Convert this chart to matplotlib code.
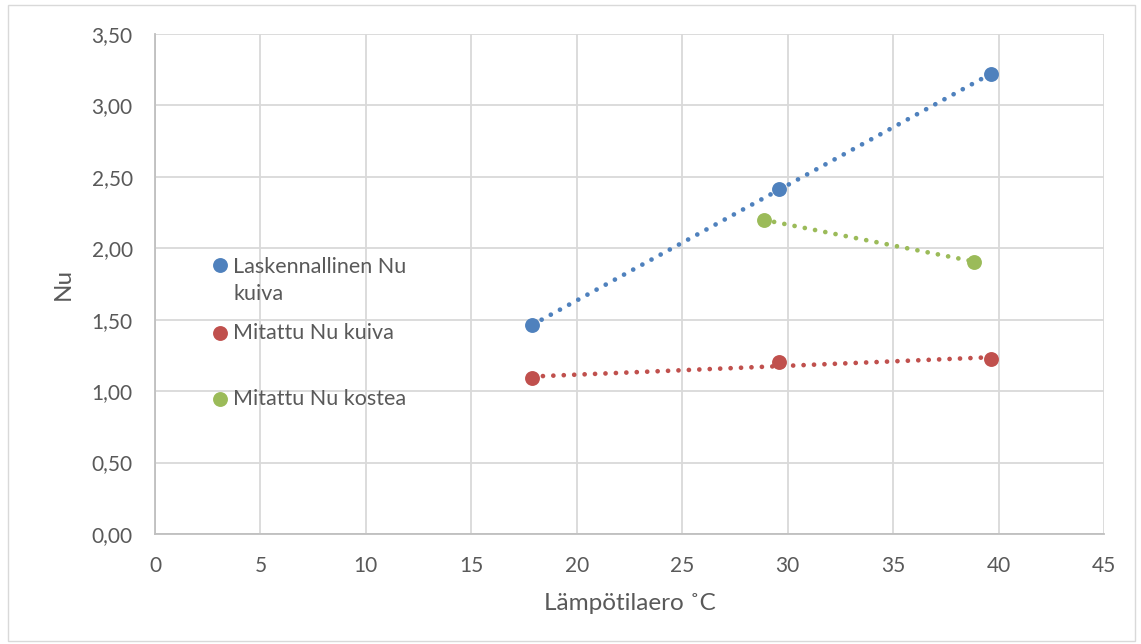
import numpy as np
import matplotlib
matplotlib.use("Agg")
import matplotlib.pyplot as plt
from matplotlib.ticker import FuncFormatter, MultipleLocator
from matplotlib.patches import Rectangle

plt.rcParams['font.family'] = ['Lato', 'DejaVu Sans']

# data
laskennallinen_x = [17.9, 29.6, 39.65]
laskennallinen_y = [1.463, 2.415, 3.22]
mitattu_kuiva_x = [17.9, 29.6, 39.65]
mitattu_kuiva_y = [1.09, 1.202, 1.223]
mitattu_kostea_x = [28.87, 38.85]
mitattu_kostea_y = [2.199, 1.907]

series_labels = ["Laskennallinen Nu\nkuiva", "Mitattu Nu kuiva", "Mitattu Nu kostea"]
series_colors = ["#4F81BD", "#C0504D", "#9BBB59"]

grid_col = "#d9d9d9"
text_col = "#595959"

fig = plt.figure(figsize=(11.41, 6.44), dpi=100)
ax = fig.add_axes([0.1358, 0.1708, 0.8318, 0.7764])

# light border around the whole chart area
fig.patches.append(Rectangle((0.007, 0.004), 0.988, 0.988, transform=fig.transFigure,
                             fill=False, edgecolor=grid_col, linewidth=1.0))

all_series = [(laskennallinen_x, laskennallinen_y),
              (mitattu_kuiva_x, mitattu_kuiva_y),
              (mitattu_kostea_x, mitattu_kostea_y)]
handles = []
for (xs, ys), lab, col in zip(all_series, series_labels, series_colors):
    xs = np.array(xs)
    ys = np.array(ys)
    # linear trendline like in excel
    k, b = np.polyfit(xs, ys, 1)
    tx = np.array([xs.min(), xs.max()])
    ax.plot(tx, k * tx + b, color=col, linewidth=3.4, linestyle=(0, (0.01, 2.2)),
            dash_capstyle='round', zorder=3)
    h = ax.scatter(xs, ys, s=115, color=col, zorder=4, linewidths=0, label=lab)
    handles.append(h)

ax.set_xlim(0, 45)
ax.set_ylim(0, 3.5)
ax.xaxis.set_major_locator(MultipleLocator(5))
ax.yaxis.set_major_locator(MultipleLocator(0.5))
ax.yaxis.set_major_formatter(FuncFormatter(lambda v, p: f"{v:.2f}".replace('.', ',')))
ax.grid(True, color=grid_col, linewidth=1.3)
ax.set_axisbelow(True)
for s in ['top', 'right']:
    ax.spines[s].set_visible(False)
for s in ['left', 'bottom']:
    ax.spines[s].set_color("#bfbfbf")
    ax.spines[s].set_linewidth(1.3)
ax.tick_params(length=0, labelsize=15, labelcolor=text_col)
ax.tick_params(axis='x', pad=16)
ax.tick_params(axis='y', pad=16)

ax.set_xlabel("Lämpötilaero ˚C", fontsize=17.5, color=text_col, labelpad=12)
ax.set_ylabel("Nu", fontsize=17.5, color=text_col, labelpad=13)

# legend entries placed one by one (excel spreads them out)
leg_pos = [0.575, 0.444, 0.312]
leg_yoff = [1.58, 0.375, 0.375]
for h, yp, yo in zip(handles, leg_pos, leg_yoff):
    lg = ax.legend(handles=[h], loc='upper left', bbox_to_anchor=(0.045, yp),
                   frameon=False, fontsize=15.5, handletextpad=0.05, borderpad=0,
                   handlelength=1.1, labelcolor=text_col, scatteryoffsets=[yo],
                   labelspacing=0.2)
    for t in lg.get_texts():
        t.set_linespacing(1.45)
    ax.add_artist(lg)
# every legend was added as artist, so drop the default one (else drawn twice)
ax.legend_ = None

fig.savefig("out.png", dpi=100)
